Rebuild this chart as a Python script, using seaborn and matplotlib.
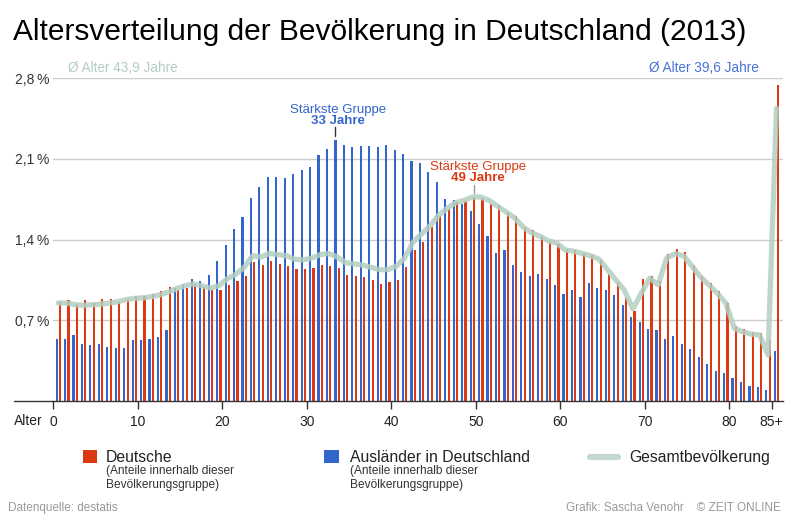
import numpy as np
import pandas as pd
import matplotlib
matplotlib.use("Agg")
import matplotlib.pyplot as plt
from matplotlib.lines import Line2D
from matplotlib.patches import Rectangle
import seaborn as sns

# ---------------- data ----------------
age_labels = [str(a) for a in range(85)] + ["85+"]

deutsche = [0.860, 0.877, 0.843, 0.877, 0.851, 0.886, 0.886, 0.860, 0.886, 0.912,
            0.912, 0.930, 0.956, 0.990, 0.964, 0.982, 1.016, 0.990, 0.964, 0.964,
            1.008, 1.043, 1.086, 1.208, 1.182, 1.216, 1.190, 1.173, 1.147, 1.147,
            1.156, 1.182, 1.173, 1.156, 1.095, 1.086, 1.077, 1.051, 1.016, 1.034,
            1.051, 1.164, 1.312, 1.381, 1.512, 1.607, 1.668, 1.729, 1.738, 1.772,
            1.764, 1.712, 1.703, 1.642, 1.607, 1.512, 1.486, 1.434, 1.381, 1.364,
            1.312, 1.312, 1.286, 1.268, 1.225, 1.103, 1.034, 0.895, 0.782, 1.060,
            1.086, 1.043, 1.277, 1.321, 1.295, 1.182, 1.086, 1.025, 0.956, 0.851,
            0.652, 0.628, 0.599, 0.591, 0.530, 2.745]

auslaender = [0.539, 0.539, 0.573, 0.495, 0.487, 0.495, 0.469, 0.460, 0.460, 0.530,
              0.530, 0.539, 0.556, 0.617, 0.982, 1.016, 1.060, 1.043, 1.095, 1.216,
              1.355, 1.494, 1.599, 1.764, 1.859, 1.946, 1.946, 1.937, 1.972, 2.007,
              2.033, 2.137, 2.189, 2.268, 2.224, 2.207, 2.215, 2.215, 2.207, 2.224,
              2.175, 2.146, 2.085, 2.068, 1.990, 1.903, 1.755, 1.746, 1.712, 1.651,
              1.538, 1.434, 1.286, 1.312, 1.182, 1.121, 1.086, 1.103, 1.060, 1.008,
              0.930, 0.964, 0.904, 1.025, 0.982, 0.964, 0.921, 0.834, 0.730, 0.686,
              0.626, 0.617, 0.539, 0.565, 0.495, 0.452, 0.382, 0.321, 0.261, 0.243,
              0.200, 0.165, 0.130, 0.122, 0.096, 0.434]

gesamt = [0.850, 0.850, 0.835, 0.830, 0.835, 0.840, 0.850, 0.860, 0.880, 0.890,
          0.895, 0.905, 0.920, 0.945, 0.975, 1.000, 1.016, 1.000, 0.980, 1.000,
          1.060, 1.100, 1.160, 1.260, 1.250, 1.280, 1.270, 1.260, 1.230, 1.225,
          1.240, 1.270, 1.280, 1.250, 1.200, 1.190, 1.180, 1.160, 1.140, 1.140,
          1.170, 1.240, 1.380, 1.450, 1.520, 1.610, 1.670, 1.720, 1.740, 1.770,
          1.770, 1.740, 1.690, 1.640, 1.590, 1.510, 1.460, 1.430, 1.390, 1.370,
          1.310, 1.300, 1.280, 1.260, 1.230, 1.140, 1.050, 0.960, 0.800, 0.935,
          1.066, 1.008, 1.240, 1.277, 1.260, 1.170, 1.077, 1.008, 0.935, 0.850,
          0.631, 0.600, 0.580, 0.573, 0.400, 2.540]

ytick_values = [0.7, 1.4, 2.1, 2.8]
ytick_labels = ["0,7\u2009%", "1,4\u2009%", "2,1\u2009%", "2,8\u2009%"]
xtick_ages = [0, 10, 20, 30, 40, 50, 60, 70, 80, 85]
xtick_labels = ["0", "10", "20", "30", "40", "50", "60", "70", "80", "85+"]

RED = "#dc3912"
BLUE = "#3366cc"
LINE = "#b3cfc1"

# ---------------- style ----------------
sns.set_style("white")
plt.rcParams["font.family"] = ["Liberation Sans", "DejaVu Sans"]

W, H = 797, 520
fig = plt.figure(figsize=(W / 100, H / 100), dpi=100)
fig.patch.set_facecolor("white")


def fx(x):
    return x / W


def fy(y):
    return 1 - y / H


ax_left, ax_right, ax_top, ax_bottom = 53.4, 783, 78.3, 401
ax = fig.add_axes([fx(ax_left), fy(ax_bottom), (ax_right - ax_left) / W, (ax_bottom - ax_top) / H])
ax.set_facecolor("white")

df = pd.DataFrame({
    "Alter": age_labels * 2,
    "Gruppe": ["Ausländer"] * len(age_labels) + ["Deutsche"] * len(age_labels),
    "Anteil": auslaender + deutsche,
})

sns.barplot(data=df, x="Alter", y="Anteil", hue="Gruppe", order=age_labels,
            hue_order=["Ausländer", "Deutsche"], palette=[BLUE, RED],
            width=0.8, gap=0.36, dodge=True, errorbar=None, saturation=1,
            linewidth=0, legend=False, ax=ax, zorder=2)

sns.lineplot(x=np.arange(len(age_labels)), y=gesamt, color=LINE, linewidth=3.8,
             alpha=0.85, ax=ax, zorder=3, solid_joinstyle="round", solid_capstyle="round")

ax.set_xlim(-0.58, 85.77)
ax.set_ylim(0, 2.8)
ax.set_xlabel("")
ax.set_ylabel("")

ax.set_yticks(ytick_values)
ax.set_yticklabels(ytick_labels)
ax.yaxis.grid(True, color="#cccccc", linewidth=1)
ax.xaxis.grid(False)
ax.set_axisbelow(True)
ax.tick_params(axis="y", length=0, pad=3, labelsize=10, labelcolor="#333333")

ax.set_xticks([a - 0.58 for a in xtick_ages])
ax.set_xticklabels(xtick_labels)
ax.tick_params(axis="x", direction="out", length=6, width=1, color="#333333",
               pad=4, labelsize=10, labelcolor="#222222", bottom=True)

for s in ["top", "right", "left"]:
    ax.spines[s].set_visible(False)
ax.spines["bottom"].set_color("#333333")
ax.spines["bottom"].set_linewidth(1)

# baseline extension to the left
fig.add_artist(Line2D([fx(14), fx(ax_left)], [fy(ax_bottom), fy(ax_bottom)],
                      color="#333333", linewidth=1))
fig.text(fx(43), fy(425), "Alter", ha="right", va="baseline", fontsize=10, color="#222222")

# annotations (strongest groups)
ax.plot([32.8, 32.8], [2.302, 2.381], color="#333333", linewidth=1, zorder=4)
ax.text(33.1, 2.50, "Stärkste Gruppe", ha="center", va="baseline", fontsize=9.5, color=BLUE)
ax.text(33.1, 2.405, "33 Jahre", ha="center", va="baseline", fontsize=9.5, color=BLUE,
        fontweight="bold")
ax.plot([49.2, 49.2], [1.807, 1.877], color="#999999", linewidth=1, zorder=4)
ax.text(49.67, 2.005, "Stärkste Gruppe", ha="center", va="baseline", fontsize=9.5, color=RED)
ax.text(49.67, 1.905, "49 Jahre", ha="center", va="baseline", fontsize=9.5, color=RED,
        fontweight="bold")

# title and averages
fig.text(fx(13), fy(40), "Altersverteilung der Bevölkerung in Deutschland (2013)",
         ha="left", va="baseline", fontsize=21.5, color="black")
fig.text(fx(68), fy(72), "Ø Alter 43,9 Jahre", ha="left", va="baseline",
         fontsize=9.8, color="#b3cdc0")
fig.text(fx(759), fy(72), "Ø Alter 39,6 Jahre", ha="right", va="baseline",
         fontsize=9.8, color="#4a72d6")

# legend
fig.add_artist(Rectangle((fx(83), fy(463)), 13.5 / W, 13 / H, transform=fig.transFigure,
                         facecolor=RED, edgecolor="none"))
fig.text(fx(106), fy(462), "Deutsche", ha="left", va="baseline", fontsize=11.3, color="#222222")
fig.text(fx(106), fy(474), "(Anteile innerhalb dieser", ha="left", va="baseline",
         fontsize=8.6, color="#333333")
fig.text(fx(106), fy(488), "Bevölkerungsgruppe)", ha="left", va="baseline",
         fontsize=8.6, color="#333333")

fig.add_artist(Rectangle((fx(324), fy(463)), 14.5 / W, 13 / H, transform=fig.transFigure,
                         facecolor=BLUE, edgecolor="none"))
fig.text(fx(350), fy(462), "Ausländer in Deutschland", ha="left", va="baseline",
         fontsize=11.3, color="#222222")
fig.text(fx(350), fy(474), "(Anteile innerhalb dieser", ha="left", va="baseline",
         fontsize=8.6, color="#333333")
fig.text(fx(350), fy(488), "Bevölkerungsgruppe)", ha="left", va="baseline",
         fontsize=8.6, color="#333333")

fig.add_artist(Line2D([fx(590), fx(618)], [fy(457), fy(457)], color="#c3d9ce",
                      linewidth=4.5))
fig.text(fx(629), fy(462), "Gesamtbevölkerung", ha="left", va="baseline",
         fontsize=11.3, color="#222222")

# footer
fig.text(fx(8), fy(511), "Datenquelle: destatis", ha="left", va="baseline",
         fontsize=8.5, color="#999999")
fig.text(fx(781), fy(511), "Grafik: Sascha Venohr    © ZEIT ONLINE", ha="right",
         va="baseline", fontsize=8.5, color="#999999")

fig.savefig("out.png", dpi=100, facecolor="white")
